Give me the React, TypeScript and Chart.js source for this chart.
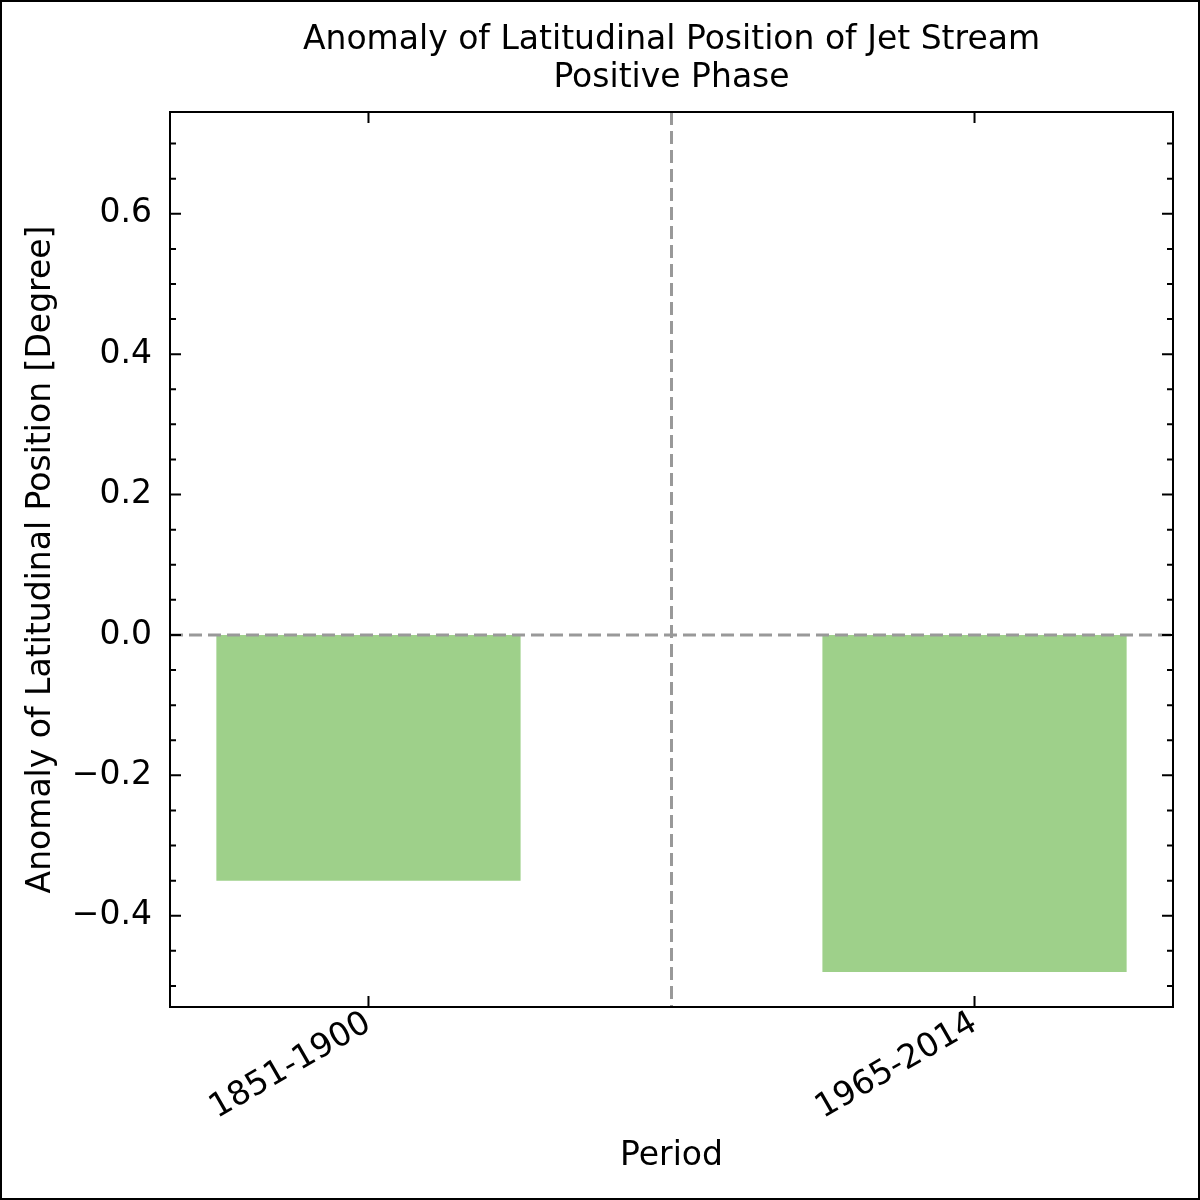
import React, { useEffect, useRef } from 'react';
import { Chart, registerables } from 'chart.js';

Chart.register(...registerables);

const periods = ['1851-1900', '1965-2014'];
const anomalies = [-0.35, -0.48];
const yMajorTicks = [-0.4, -0.2, 0.0, 0.2, 0.4, 0.6];
const titleLines = ['Anomaly of Latitudinal Position of Jet Stream', 'Positive Phase'];

const FONT = "'DejaVu Sans', sans-serif";
const FS = 33;

// matplotlib-ish frame: full spines, inward ticks on all four sides, dashed reference lines
const framePlugin = {
  id: 'frame',
  afterDatasetsDraw(chart: any) {
    const { ctx, chartArea: a, scales } = chart;
    ctx.save();
    ctx.strokeStyle = '#999999';
    ctx.lineWidth = 3;
    ctx.setLineDash([13, 6]);
    const y0 = scales.y.getPixelForValue(0);
    const xm = scales.x.getPixelForValue(0.5);
    ctx.beginPath();
    ctx.moveTo(a.left, y0);
    ctx.lineTo(a.right, y0);
    ctx.moveTo(xm, a.top);
    ctx.lineTo(xm, a.bottom);
    ctx.stroke();
    ctx.restore();
  },
  afterDraw(chart: any) {
    const { ctx, chartArea: a, scales, width, height } = chart;
    ctx.save();
    ctx.strokeStyle = '#000';
    ctx.lineWidth = 2;
    ctx.strokeRect(a.left, a.top, a.right - a.left, a.bottom - a.top);
    ctx.strokeRect(1, 1, width - 2, height - 2);

    ctx.beginPath();
    for (let i = -10; i <= 14; i++) {
      const v = i * 0.05;
      const py = scales.y.getPixelForValue(v);
      if (py < a.top || py > a.bottom) continue;
      const len = i % 4 === 0 ? 11 : 6;
      ctx.moveTo(a.left, py);
      ctx.lineTo(a.left + len, py);
      ctx.moveTo(a.right, py);
      ctx.lineTo(a.right - len, py);
    }
    periods.forEach((_, i) => {
      const px = scales.x.getPixelForValue(i);
      ctx.moveTo(px, a.bottom);
      ctx.lineTo(px, a.bottom - 11);
      ctx.moveTo(px, a.top);
      ctx.lineTo(px, a.top + 11);
    });
    ctx.stroke();
    ctx.restore();
  },
};

const App: React.FC = () => {
  const chartRef = useRef<HTMLCanvasElement>(null);
  const chartInstance = useRef<Chart | null>(null);

  useEffect(() => {
    document.body.style.margin = '0';
    if (chartInstance.current) {
      chartInstance.current.destroy();
    }
    if (chartRef.current) {
      const ctx = chartRef.current.getContext('2d');
      if (ctx) {
        chartInstance.current = new Chart(ctx, {
          type: 'bar',
          data: {
            datasets: [
              {
                label: 'anomaly',
                data: anomalies.map((v, i) => ({ x: i, y: v })),
                backgroundColor: 'rgb(158, 208, 138)',
                borderWidth: 0,
                barPercentage: 0.502,
                categoryPercentage: 1,
              },
            ],
          },
          options: {
            responsive: false,
            animation: false,
            devicePixelRatio: 1,
            layout: { padding: { left: 0, right: 27, top: 0, bottom: 0 } },
            plugins: {
              legend: { display: false },
              tooltip: { enabled: false },
              title: {
                display: true,
                fullSize: false,
                text: titleLines,
                color: '#000',
                font: { family: FONT, size: FS, weight: 'normal', lineHeight: 38 / FS },
                padding: { top: 21, bottom: 15 },
              },
            },
            scales: {
              x: {
                type: 'linear',
                min: -0.3275,
                max: 1.3275,
                offset: false,
                grid: { display: false, drawTicks: false },
                border: { display: false },
                afterBuildTicks: (scale: any) => {
                  scale.ticks = periods.map((_, i) => ({ value: i }));
                },
                afterFit: (scale: any) => {
                  scale.height = 193;
                },
                ticks: {
                  autoSkip: false,
                  minRotation: 30,
                  maxRotation: 30,
                  padding: -3,
                  color: '#000',
                  font: { family: FONT, size: FS },
                  callback: (v: any) => periods[Math.round(Number(v))] ?? '',
                },
                title: {
                  display: true,
                  text: 'Period',
                  color: '#000',
                  font: { family: FONT, size: FS, lineHeight: 1.2 },
                  padding: { top: 0, bottom: 24 },
                },
              },
              y: {
                min: -0.53,
                max: 0.745,
                grid: { display: false, drawTicks: false },
                border: { display: false },
                afterBuildTicks: (scale: any) => {
                  scale.ticks = yMajorTicks.map((v) => ({ value: v }));
                },
                afterFit: (scale: any) => {
                  scale.width = 170;
                },
                ticks: {
                  padding: 18,
                  color: '#000',
                  font: { family: FONT, size: FS },
                  callback: (v: any) => Number(v).toFixed(1).replace('-', '\u2212'),
                },
                title: {
                  display: true,
                  text: 'Anomaly of Latitudinal Position [Degree]',
                  color: '#000',
                  font: { family: FONT, size: FS, lineHeight: 1.2 },
                  padding: { top: 22, bottom: 0 },
                },
              },
            },
          },
          plugins: [framePlugin],
        });
      }
    }
    return () => {
      if (chartInstance.current) {
        chartInstance.current.destroy();
        chartInstance.current = null;
      }
    };
  }, []);

  return (
    <div style={{ width: '1200px', height: '1200px', background: '#fff' }}>
      <canvas ref={chartRef} width={1200} height={1200}></canvas>
    </div>
  );
};

export default App;
